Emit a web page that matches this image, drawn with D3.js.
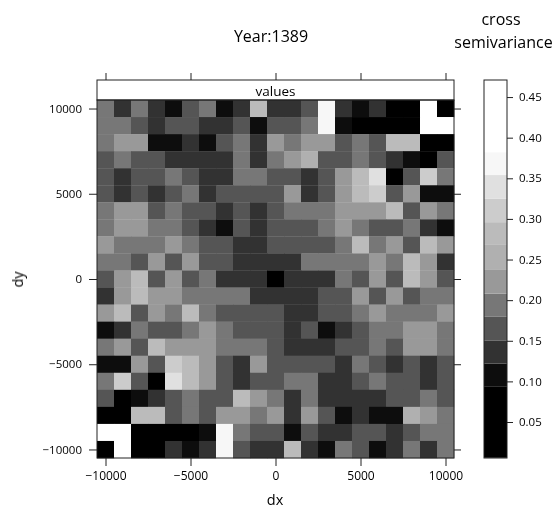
<!DOCTYPE html>
<html>
<head>
<meta charset="utf-8">
<script src="https://cdn.jsdelivr.net/npm/d3@7"></script>
<style>
  body { margin: 0; background: #fff; }
  text { font-family: "Open Sans", sans-serif; fill: #000; }
</style>
</head>
<body>
<svg id="chart" width="555" height="509"></svg>
<script>
var dxValues = [-10000, -9000, -8000, -7000, -6000, -5000, -4000, -3000, -2000, -1000, 0,
  1000, 2000, 3000, 4000, 5000, 6000, 7000, 8000, 9000, 10000];
var dyValues = [10000, 9000, 8000, 7000, 6000, 5000, 4000, 3000, 2000, 1000, 0,
  -1000, -2000, -3000, -4000, -5000, -6000, -7000, -8000, -9000, -10000];
var axisTicks = [-10000, -5000, 0, 5000, 10000];
var legendTicks = [0.05, 0.10, 0.15, 0.20, 0.25, 0.30, 0.35, 0.40, 0.45];
var legendBreaks = [0.006, 0.094, 0.122, 0.150, 0.180, 0.208, 0.238, 0.268, 0.296, 0.325, 0.354, 0.382, 0.471];
var legendGrays = ["#000000", "#0d0d0d", "#333333", "#555555", "#777777", "#999999",
  "#b0b0b0", "#bbbbbb", "#cccccc", "#e0e0e0", "#f7f7f7", "#ffffff"];

// one row per dy, top row first
var semivariance = [
  [.19,.14,.19,.14,.11,.17,.19,.11,.14,.28,.14,.14,.17,.37,.14,.11,.14,.05,.05,.42,.05],
  [.19,.19,.17,.14,.17,.17,.14,.14,.17,.11,.17,.17,.19,.37,.11,.05,.05,.05,.05,.42,.42],
  [.19,.22,.22,.11,.11,.14,.11,.17,.19,.14,.22,.19,.22,.22,.17,.19,.17,.28,.28,.05,.05],
  [.17,.19,.17,.17,.14,.14,.14,.14,.19,.14,.19,.22,.25,.17,.17,.19,.17,.14,.11,.05,.17],
  [.17,.14,.17,.17,.19,.17,.14,.14,.19,.19,.17,.17,.14,.17,.22,.28,.34,.05,.17,.31,.19],
  [.17,.14,.17,.14,.17,.19,.14,.17,.17,.17,.17,.22,.14,.17,.22,.28,.31,.17,.22,.11,.11],
  [.19,.22,.22,.17,.19,.17,.17,.14,.17,.14,.17,.19,.19,.19,.22,.22,.22,.28,.17,.22,.19],
  [.19,.22,.22,.19,.19,.17,.14,.11,.17,.14,.17,.17,.17,.19,.22,.19,.17,.17,.19,.14,.11],
  [.22,.19,.19,.19,.22,.19,.17,.17,.14,.14,.17,.17,.17,.17,.19,.28,.19,.22,.17,.28,.22],
  [.19,.19,.17,.22,.17,.22,.17,.17,.14,.14,.14,.14,.19,.19,.19,.19,.22,.19,.28,.22,.14],
  [.17,.22,.28,.17,.22,.17,.19,.14,.14,.14,.05,.14,.14,.14,.19,.17,.22,.17,.28,.22,.17],
  [.14,.22,.28,.22,.22,.19,.19,.19,.19,.14,.14,.14,.14,.17,.17,.22,.17,.22,.17,.19,.19],
  [.22,.28,.17,.22,.19,.28,.19,.17,.17,.17,.17,.14,.14,.17,.17,.19,.22,.19,.19,.19,.22],
  [.11,.14,.19,.17,.17,.19,.22,.19,.17,.17,.17,.14,.17,.11,.14,.17,.19,.19,.22,.22,.19],
  [.19,.22,.17,.28,.22,.22,.22,.19,.19,.19,.17,.14,.14,.14,.17,.17,.19,.17,.22,.22,.19],
  [.11,.11,.22,.17,.31,.28,.22,.17,.14,.22,.17,.17,.17,.17,.14,.19,.17,.14,.17,.14,.17],
  [.19,.31,.17,.05,.34,.28,.22,.17,.14,.17,.17,.19,.19,.14,.14,.17,.19,.17,.17,.14,.17],
  [.17,.05,.11,.14,.17,.19,.17,.17,.28,.22,.19,.14,.19,.14,.14,.14,.14,.17,.17,.19,.17],
  [.05,.05,.28,.28,.17,.19,.17,.22,.22,.19,.22,.14,.22,.17,.11,.14,.11,.11,.25,.22,.19],
  [.42,.42,.05,.05,.05,.05,.11,.37,.19,.17,.17,.11,.17,.14,.14,.17,.17,.14,.17,.19,.19],
  [.05,.42,.05,.05,.14,.11,.14,.37,.17,.14,.14,.28,.14,.11,.19,.17,.11,.14,.19,.14,.19]
];

var svg = d3.select("#chart");

var plot = { left: 97, right: 454, top: 100, bottom: 458, stripTop: 80 };
var legend = { left: 484, right: 507, top: 80, bottom: 458 };

var xScale = d3.scaleLinear().domain([-10500, 10500]).range([plot.left, plot.right]);
var yScale = d3.scaleLinear().domain([-10500, 10500]).range([plot.bottom, plot.top]);
var legendScale = d3.scaleLinear().domain([0.0057, 0.471]).range([legend.bottom, legend.top]);
var colorScale = d3.scaleThreshold()
  .domain(legendBreaks.slice(1, -1))
  .range(legendGrays);

// the source is a soft raster, so blur the whole drawing a little
svg.append("defs").append("filter")
  .attr("id", "soft")
  .attr("filterUnits", "userSpaceOnUse")
  .attr("x", 0).attr("y", 0).attr("width", 555).attr("height", 509)
  .append("feGaussianBlur")
  .attr("stdDeviation", 0.5);

var root = svg.append("g").attr("filter", "url(#soft)");

var cells = [];
semivariance.forEach(function (row, r) {
  row.forEach(function (value, c) {
    cells.push({ dx: dxValues[c], dy: dyValues[r], value: value });
  });
});

var cellWidth = xScale(1000) - xScale(0);
var cellHeight = yScale(0) - yScale(1000);

root.append("g")
  .selectAll("rect")
  .data(cells)
  .enter()
  .append("rect")
  .attr("x", function (d) { return xScale(d.dx - 500); })
  .attr("y", function (d) { return yScale(d.dy + 500); })
  .attr("width", cellWidth + 0.3)
  .attr("height", cellHeight + 0.3)
  .attr("fill", function (d) { return colorScale(d.value); });

// strip and panel frame
root.append("rect")
  .attr("x", plot.left).attr("y", plot.stripTop)
  .attr("width", plot.right - plot.left).attr("height", plot.top - plot.stripTop)
  .attr("fill", "#fff").attr("stroke", "#222");
root.append("rect")
  .attr("x", plot.left).attr("y", plot.top)
  .attr("width", plot.right - plot.left).attr("height", plot.bottom - plot.top)
  .attr("fill", "none").attr("stroke", "#222");
root.append("text")
  .attr("x", (plot.left + plot.right) / 2).attr("y", 96)
  .attr("text-anchor", "middle").attr("font-size", 13.5)
  .text("values");

var styleAxis = function (size) {
  return function (g) {
    g.select(".domain").remove();
    g.selectAll("line").attr("stroke", "#222");
    g.selectAll("text").attr("font-size", size).style("fill", "#000");
  };
};

root.append("g")
  .attr("transform", "translate(0," + plot.bottom + ")")
  .call(d3.axisBottom(xScale).tickValues(axisTicks).tickSize(8).tickPadding(5).tickFormat(d3.format("d")))
  .call(styleAxis(12));
root.append("g")
  .attr("transform", "translate(0," + plot.stripTop + ")")
  .call(d3.axisTop(xScale).tickValues(axisTicks).tickSize(7).tickFormat(""))
  .call(styleAxis(12));
root.append("g")
  .attr("transform", "translate(" + plot.left + ",0)")
  .call(d3.axisLeft(yScale).tickValues(axisTicks).tickSize(8).tickPadding(7).tickFormat(d3.format("d")))
  .call(styleAxis(11.5));
root.append("g")
  .attr("transform", "translate(" + plot.right + ",0)")
  .call(d3.axisRight(yScale).tickValues(axisTicks).tickSize(7).tickFormat(""))
  .call(styleAxis(12));

// colour key
root.append("g")
  .selectAll("rect")
  .data(legendGrays)
  .enter()
  .append("rect")
  .attr("x", legend.left)
  .attr("y", function (d, i) { return legendScale(legendBreaks[i + 1]); })
  .attr("width", legend.right - legend.left)
  .attr("height", function (d, i) { return legendScale(legendBreaks[i]) - legendScale(legendBreaks[i + 1]); })
  .attr("fill", function (d) { return d; });
root.append("rect")
  .attr("x", legend.left).attr("y", legend.top)
  .attr("width", legend.right - legend.left).attr("height", legend.bottom - legend.top)
  .attr("fill", "none").attr("stroke", "#222");
root.append("g")
  .attr("transform", "translate(" + legend.right + ",0)")
  .call(d3.axisRight(legendScale).tickValues(legendTicks).tickSize(6).tickPadding(6).tickFormat(d3.format(".2f")))
  .call(styleAxis(11.5));

// titles
var addText = function (x, y, label, size) {
  return root.append("text")
    .attr("x", x).attr("y", y)
    .attr("text-anchor", "middle")
    .attr("font-size", size)
    .text(label);
};
addText(271, 42, "Year:1389", 16);
addText(501, 25, "cross", 16);
addText(503.5, 47.5, "semivariance", 16);
addText(275, 505, "dx", 14.5);
addText(0, 0, "dy", 14.5)
  .attr("transform", "translate(23,279.5) rotate(-90)");
</script>
</body>
</html>
